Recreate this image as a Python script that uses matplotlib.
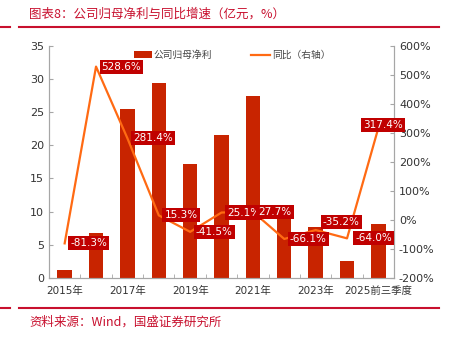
import matplotlib.pyplot as plt
from matplotlib.lines import Line2D

plt.rcParams['font.family'] = ['DejaVu Sans', 'Noto Sans CJK SC']

years = ['2015年', '2016年', '2017年', '2018年', '2019年', '2020年',
         '2021年', '2022年', '2023年', '2024年', '2025前三季度']
profit = [1.2, 6.8, 25.5, 29.4, 17.2, 21.5, 27.5, 9.35, 7.6, 2.6, 8.1]
yoy = [-81.3, 528.6, 281.4, 15.3, -41.5, 25.1, 27.7, -66.1, -35.2, -64.0, 317.4]
tick_labels = ['2015年', '', '2017年', '', '2019年', '', '2021年', '', '2023年', '', '2025前三季度']

# label offsets in points (dx, dy, ha)
offsets = [(4, 0, 'left')] * 8 + [(5, 6, 'left'), (6, 0, 'left'), (3, 2, 'center')]

bar_color = '#C82400'
line_color = '#FF6A13'
red = '#C8102E'
gray = '#A6A6A6'

fig = plt.figure(figsize=(4.62, 3.40), dpi=100)
ax = fig.add_axes([0.106, 0.183, 0.747, 0.682])
ax2 = ax.twinx()

x = list(range(len(years)))
ax.bar(x, profit, width=0.46, color=bar_color, label='公司归母净利')
ax2.plot(x, yoy, color=line_color, lw=1.6, label='同比（右轴）')

for i, v in enumerate(yoy):
    dx, dy, ha = offsets[i]
    ax2.annotate(f'{v:.1f}%', (i, v), xytext=(dx, dy), textcoords='offset points',
                 ha=ha, va='center', color='white', fontsize=7.5,
                 bbox=dict(boxstyle='square,pad=0.2', fc='#C00000', ec='none'))

ax.set_xlim(-0.5, len(years) - 0.5)
ax.set_ylim(0, 35)
ax.set_yticks(range(0, 36, 5))
ax2.set_ylim(-200, 600)
ax2.set_yticks(range(-200, 601, 100))
ax2.set_yticklabels([f'{t}%' for t in range(-200, 601, 100)])

ax.set_xticks(x)
ax.set_xticklabels(tick_labels, fontsize=7.5, color='#333333')
ax.set_xticks([i + 0.5 for i in x[:-1]], minor=True)
ax.tick_params(axis='x', which='major', length=0, pad=6)
ax.tick_params(axis='x', which='minor', length=3, direction='in', color=gray)
ax.tick_params(axis='y', length=3, direction='in', color=gray, labelsize=8, labelcolor='#333333')
ax2.tick_params(axis='y', length=3, direction='in', color=gray, labelsize=8, labelcolor='#333333')

for a in (ax, ax2):
    a.spines['top'].set_visible(False)
    for s in ('left', 'right', 'bottom'):
        a.spines[s].set_color(gray)

h1, l1 = ax.get_legend_handles_labels()
h2, l2 = ax2.get_legend_handles_labels()
ax2.legend(h1 + h2, l1 + l2, ncol=2, loc='upper center', bbox_to_anchor=(0.53, 1.02),
           frameon=False, columnspacing=4, handlelength=1.9,
           handletextpad=0.2, labelcolor='#444444',
           prop={'family': 'Noto Sans CJK SC', 'size': 7})

fig.text(0.063, 0.958, '图表8：公司归母净利与同比增速（亿元，%）', color=red,
         fontsize=9, family=['Noto Sans CJK SC'], weight='light', va='center', style='italic')
fig.text(0.063, 0.052, '资料来源：Wind，国盛证券研究所', color=red,
         fontsize=9, family=['Noto Sans CJK SC'], weight='light', va='center', style='italic')

for yy in (0.921, 0.095):
    fig.add_artist(Line2D([0, 0.022], [yy, yy], color=red, lw=1.5))
    fig.add_artist(Line2D([0.041, 0.951], [yy, yy], color=red, lw=1.5))

fig.savefig('out.png', dpi=100)
